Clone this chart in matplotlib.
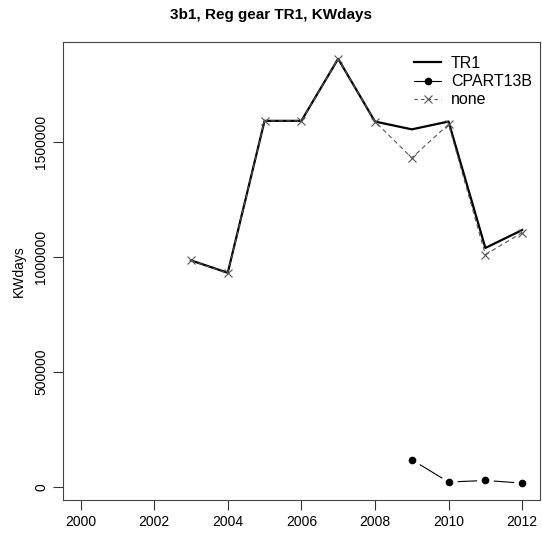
import matplotlib
matplotlib.use("Agg")
import matplotlib.pyplot as plt
from matplotlib.lines import Line2D

plt.rcParams['font.family'] = ['Liberation Sans', 'DejaVu Sans']

years = [2003, 2004, 2005, 2006, 2007, 2008, 2009, 2010, 2011, 2012]
tr1 = [985000, 931000, 1592000, 1592000, 1862000, 1589000, 1555000, 1589000, 1039000, 1117000]
cpart_years = [2009, 2010, 2011, 2012]
cpart = [118000, 20600, 27600, 16000]
none_vals = [985000, 928000, 1592000, 1592000, 1862000, 1589000, 1431000, 1577000, 1010000, 1106000]

title = "3b1, Reg gear TR1, KWdays"
ylabel = "KWdays"
xticks = [2000, 2002, 2004, 2006, 2008, 2010, 2012]
yticks = [0, 500000, 1000000, 1500000]

fig = plt.figure(figsize=(5.42, 5.36), dpi=100)
ax = fig.add_axes([0.116, 0.067, 0.88, 0.855])

ax.plot(years, tr1, color='black', lw=1.6, label='TR1')
ax.plot(cpart_years, cpart, color='black', lw=0.8)
ax.plot(cpart_years, cpart, linestyle='none', marker='o', ms=11, mfc='white', mec='white')
ax.plot(cpart_years, cpart, linestyle='none', marker='o', ms=4.5, mfc='black', mec='black')
ax.plot(years, none_vals, color='#555555', lw=0.8, ls=(0, (4, 3)), marker='x', ms=6,
        mec='#555555', mew=0.8)

handles = [Line2D([], [], color='black', lw=1.6),
           Line2D([], [], color='black', lw=0.8, marker='o', ms=4.5),
           Line2D([], [], color='#555555', lw=0.8, ls=(0, (3, 3)), marker='x', ms=6, mew=0.8)]
ax.legend(handles, ['TR1', 'CPART13B', 'none'], loc='upper right', frameon=False,
          fontsize=11.5, handlelength=1.7, handletextpad=0.6, borderaxespad=0,
          labelspacing=0.2, bbox_to_anchor=(0.997, 0.983))

ymin, ymax = 16000, 1862000
pad = (ymax - ymin) * 0.04
ax.set_ylim(ymin - pad, ymax + pad)
ax.set_xlim(2000 - 12 * 0.04, 2012 + 12 * 0.04)
ax.set_xticks(xticks)
ax.set_yticks(yticks)
ax.set_yticklabels([str(v) for v in yticks], rotation=90, va='center')
ax.tick_params(direction='out', length=7, width=0.8, colors='#333333', labelsize=10,
               labelcolor='black')
for s in ax.spines.values():
    s.set_color('#444444')
    s.set_linewidth(0.8)
ax.set_ylabel(ylabel, fontsize=10, labelpad=6)
fig.suptitle(title, fontsize=11, fontweight='bold', y=0.985)

fig.savefig('out.png', dpi=100)
